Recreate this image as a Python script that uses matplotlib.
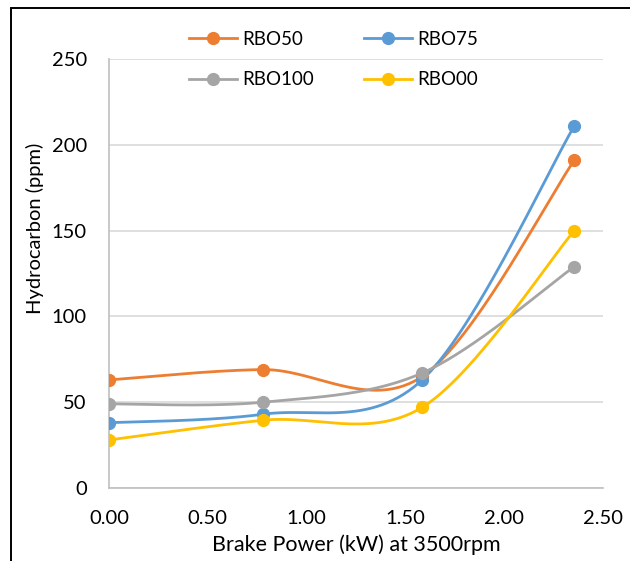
import numpy as np
import matplotlib.pyplot as plt
from matplotlib.lines import Line2D
from matplotlib.patches import Rectangle

plt.rcParams['font.family'] = ['Lato', 'DejaVu Sans']

# data
brake_power = [0.00, 0.78, 1.585, 2.355]
rbo50 = [63, 69, 65, 191]
rbo75 = [38, 43, 63, 211]
rbo100 = [49, 50, 67, 129]
rbo00 = [28, 39.5, 47, 150]

series = [
    ('RBO50', rbo50, '#ED7D31'),
    ('RBO75', rbo75, '#5B9BD5'),
    ('RBO100', rbo100, '#A5A5A5'),
    ('RBO00', rbo00, '#FFC000'),
]


def smooth(x, y, n=60):
    # Excel-style smoothed line (Catmull-Rom as cubic bezier)
    pts = np.column_stack([x, y]).astype(float)
    out = []
    t = np.linspace(0, 1, n)[:, None]
    for i in range(len(pts) - 1):
        p0 = pts[i - 1] if i > 0 else pts[i]
        p1 = pts[i]
        p2 = pts[i + 1]
        p3 = pts[i + 2] if i + 2 < len(pts) else pts[i + 1]
        c1 = p1 + (p2 - p0) / 6
        c2 = p2 - (p3 - p1) / 6
        seg = (1 - t) ** 3 * p1 + 3 * (1 - t) ** 2 * t * c1 + 3 * (1 - t) * t ** 2 * c2 + t ** 3 * p2
        out.append(seg)
    out = np.vstack(out)
    return out[:, 0], out[:, 1]


fig = plt.figure(figsize=(6.3, 5.61), dpi=100)
ax = fig.add_axes([109 / 630, 73 / 561, 494 / 630, 429 / 561])

for name, vals, col in series:
    sx, sy = smooth(brake_power, vals)
    ax.plot(sx, sy, color=col, linewidth=2.0, solid_capstyle='round', zorder=3)
    ax.plot(brake_power, vals, linestyle='none', marker='o', markersize=8.5,
            color=col, zorder=4)

ax.set_xlim(0, 2.5)
ax.set_ylim(0, 250)
ax.set_xticks(np.arange(0, 2.51, 0.5))
ax.set_xticklabels([f'{v:.2f}' for v in np.arange(0, 2.51, 0.5)])
ax.set_yticks(np.arange(0, 251, 50))

ax.grid(axis='y', color='#D9D9D9', linewidth=1.2)
ax.set_axisbelow(True)
for s in ['top', 'right']:
    ax.spines[s].set_visible(False)
ax.spines['left'].set_color('#BFBFBF')
ax.spines['bottom'].set_color('#BFBFBF')
ax.spines['left'].set_linewidth(1.2)
ax.spines['bottom'].set_linewidth(1.2)
ax.tick_params(length=0, labelsize=14.5, colors='black')
ax.tick_params(axis='x', pad=16)
ax.tick_params(axis='y', pad=16)

ax.set_xlabel('Brake Power (kW) at 3500rpm', fontsize=15.5, labelpad=5)
fig.text(35 / 630, 1 - 228 / 561, 'Hydrocarbon (ppm)', rotation=90,
         ha='center', va='center', fontsize=14.5)

# legend, two rows
handles = []
for name, vals, col in series:
    handles.append(Line2D([], [], color=col, linewidth=2.0, marker='o', markersize=8.5, label=name))
order = [0, 2, 1, 3]
fig.legend([handles[i] for i in order], [series[i][0] for i in order],
           ncol=2, loc='center', bbox_to_anchor=(333.5 / 630, 1 - 59.5 / 561),
           frameon=False, fontsize=13.5, handlelength=2.55, handletextpad=0.27,
           columnspacing=2.7, labelspacing=1.25, borderpad=0)

# outer frame (cropped)
fig.add_artist(Rectangle((10.5 / 630, -0.1), 1.2, 1.1 - 7.5 / 561 + 0.0,
                         transform=fig.transFigure, fill=False,
                         edgecolor='black', linewidth=1.4))

plt.savefig('out.png', dpi=100)
